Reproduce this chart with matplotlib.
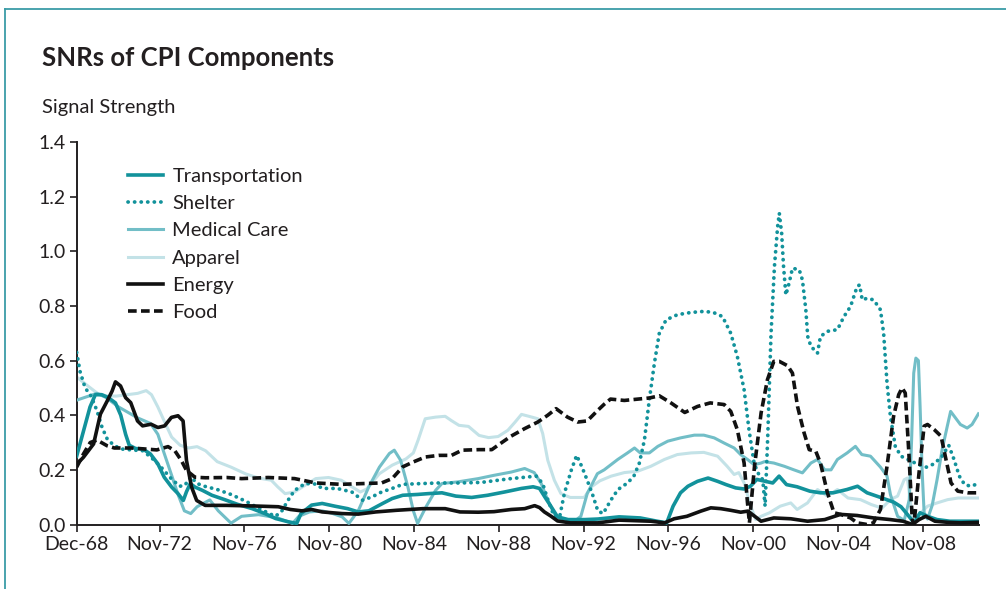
import numpy as np
import matplotlib
matplotlib.use("Agg")
import matplotlib.pyplot as plt
from matplotlib.lines import Line2D

plt.rcParams["font.family"] = ["Lato", "DejaVu Sans"]

TEXT = "#231f20"

# -----------------------------
# data (decimal year, signal strength)
# -----------------------------
transport_yr = [1968.92, 1969.2, 1969.55, 1969.8, 1970.1, 1970.4, 1970.75, 1971.0, 1971.23, 1971.4,
                1971.7, 1972.05, 1972.4, 1972.75, 1973.05, 1973.4, 1973.7, 1973.95, 1974.1, 1974.28,
                1974.5, 1974.85, 1975.3, 1975.9, 1976.5, 1977.2, 1977.8, 1978.3, 1978.9, 1979.3,
                1979.5, 1980.0, 1980.5, 1981.1, 1981.7, 1982.2, 1982.7, 1983.35, 1983.8, 1984.3,
                1985.0, 1985.5, 1986.15, 1986.8, 1987.55, 1988.3, 1989.1, 1989.9, 1990.45, 1990.75,
                1991.0, 1991.3, 1991.6, 1992.1, 1992.9, 1993.5, 1994.5, 1995.5, 1996.3, 1996.75,
                1997.05, 1997.4, 1997.75, 1998.2, 1998.7, 1999.15, 1999.55, 2000.0, 2000.4, 2000.7,
                2001.0, 2001.4, 2001.75, 2002.05, 2002.4, 2002.9, 2003.5, 2004.0, 2004.6, 2005.25,
                2005.75, 2006.2, 2006.8, 2007.45, 2007.8, 2008.1, 2008.42, 2008.7, 2009.05, 2009.5,
                2010.1, 2011.45]
transport_val = [0.25, 0.33, 0.43, 0.475, 0.475, 0.465, 0.445, 0.40, 0.33, 0.29,
                 0.278, 0.276, 0.258, 0.222, 0.173, 0.137, 0.113, 0.088, 0.12, 0.15,
                 0.137, 0.125, 0.107, 0.091, 0.074, 0.058, 0.04, 0.022, 0.01, 0.004,
                 0.04, 0.071, 0.077, 0.067, 0.058, 0.046, 0.05, 0.077, 0.095, 0.107,
                 0.11, 0.113, 0.116, 0.104, 0.099, 0.107, 0.119, 0.132, 0.138, 0.132,
                 0.101, 0.065, 0.028, 0.018, 0.018, 0.02, 0.028, 0.024, 0.012, 0.006,
                 0.067, 0.116, 0.14, 0.158, 0.17, 0.158, 0.146, 0.134, 0.13, 0.14,
                 0.165, 0.158, 0.152, 0.177, 0.146, 0.138, 0.122, 0.116, 0.116, 0.128,
                 0.14, 0.116, 0.10, 0.082, 0.065, 0.037, 0.006, 0.043, 0.03, 0.018,
                 0.012, 0.012]

shelter_yr = [1968.92, 1969.08, 1969.32, 1969.6, 1969.88, 1970.12, 1970.36, 1970.7, 1971.07, 1971.5,
              1972.03, 1972.43, 1972.9, 1973.39, 1973.78, 1974.02, 1974.3, 1974.6, 1974.95, 1975.55,
              1976.2, 1976.9, 1977.5, 1978.0, 1978.3, 1978.6, 1978.9, 1979.2, 1979.7, 1980.2,
              1980.5, 1981.2, 1981.9, 1982.4, 1982.85, 1983.3, 1983.8, 1984.3, 1985.25, 1986.0,
              1987.0, 1988.0, 1988.8, 1989.4, 1990.2, 1990.6, 1990.9, 1991.15, 1991.45, 1991.7,
              1991.92, 1992.25, 1992.5, 1992.75, 1993.0, 1993.25, 1993.5, 1993.75, 1994.13, 1994.45,
              1994.9, 1995.2, 1995.46, 1995.7, 1995.93, 1996.17, 1996.4, 1996.72, 1997.26, 1997.9,
              1998.52, 1998.95, 1999.38, 1999.77, 2000.08, 2000.4, 2000.63, 2000.87, 2001.05, 2001.28,
              2001.39, 2001.52, 2001.67, 2001.83, 2001.98, 2002.06, 2002.17, 2002.26, 2002.37, 2002.52,
              2002.68, 2003.0, 2003.15, 2003.31, 2003.4, 2003.55, 2003.86, 2004.0, 2004.33, 2004.8,
              2005.11, 2005.42, 2005.73, 2005.85, 2005.97, 2006.2, 2006.51, 2006.83, 2006.98, 2007.14,
              2007.3, 2007.53, 2007.8, 2008.2, 2008.6, 2009.0, 2009.3, 2009.7, 2010.05, 2010.3,
              2010.55, 2010.8, 2011.1, 2011.45]
shelter_val = [0.63, 0.56, 0.50, 0.47, 0.416, 0.355, 0.313, 0.288, 0.276, 0.273,
               0.27, 0.246, 0.21, 0.167, 0.14, 0.143, 0.175, 0.15, 0.14, 0.128,
               0.11, 0.085, 0.06, 0.04, 0.03, 0.05, 0.09, 0.125, 0.15, 0.148,
               0.132, 0.132, 0.119, 0.089, 0.101, 0.119, 0.132, 0.147, 0.15, 0.152,
               0.152, 0.154, 0.162, 0.168, 0.174, 0.177, 0.15, 0.089, 0.028, 0.028,
               0.113, 0.199, 0.253, 0.211, 0.162, 0.11, 0.05, 0.04, 0.091, 0.128,
               0.152, 0.177, 0.225, 0.31, 0.457, 0.591, 0.70, 0.749, 0.768, 0.776,
               0.78, 0.776, 0.761, 0.70, 0.615, 0.493, 0.347, 0.225, 0.189, 0.164,
               0.067, 0.335, 0.70, 0.944, 1.09, 1.139, 1.066, 0.944, 0.84, 0.883,
               0.938, 0.932, 0.895, 0.786, 0.688, 0.652, 0.627, 0.688, 0.707, 0.713,
               0.761, 0.798, 0.871, 0.877, 0.822, 0.828, 0.822, 0.786, 0.70, 0.518,
               0.396, 0.286, 0.25, 0.235, 0.22, 0.21, 0.22, 0.245, 0.29, 0.238,
               0.177, 0.146, 0.14, 0.15]

medical_yr = [1968.92, 1969.3, 1969.88, 1970.3, 1970.9, 1971.8, 1972.4, 1972.75, 1973.05, 1973.4,
              1973.7, 1974.0, 1974.3, 1974.6, 1975.2, 1975.6, 1976.2, 1976.7, 1977.5, 1978.4,
              1979.1, 1979.4, 1979.9, 1980.5, 1981.0, 1981.44, 1981.76, 1982.2, 1982.7, 1983.2,
              1983.67, 1983.9, 1984.2, 1984.54, 1984.8, 1985.0, 1985.4, 1985.85, 1986.15, 1986.9,
              1987.86, 1988.6, 1989.42, 1990.05, 1990.5, 1990.83, 1991.14, 1991.45, 1991.76, 1992.4,
              1992.7, 1993.0, 1993.48, 1993.8, 1994.44, 1994.9, 1995.23, 1995.5, 1995.93, 1996.33,
              1996.8, 1997.4, 1998.05, 1998.5, 1998.99, 1999.46, 1999.93, 2000.25, 2000.56, 2000.87,
              2001.2, 2001.36, 2001.8, 2002.3, 2002.75, 2003.15, 2003.55, 2003.86, 2004.2, 2004.5,
              2004.8, 2005.26, 2005.65, 2005.95, 2006.36, 2006.83, 2007.14, 2007.3, 2007.64, 2007.95,
              2008.19, 2008.3, 2008.4, 2008.5, 2008.62, 2008.7, 2008.8, 2008.89, 2009.05, 2009.27,
              2009.5, 2009.74, 2009.98, 2010.14, 2010.37, 2010.6, 2010.92, 2011.15, 2011.45]
medical_val = [0.455, 0.465, 0.48, 0.465, 0.43, 0.39, 0.37, 0.33, 0.26, 0.18,
               0.11, 0.05, 0.04, 0.065, 0.09, 0.05, 0.005, 0.03, 0.036, 0.024,
               0.004, 0.03, 0.046, 0.05, 0.04, 0.028, 0.004, 0.05, 0.138, 0.21,
               0.26, 0.272, 0.235, 0.138, 0.05, 0.004, 0.065, 0.125, 0.15, 0.156,
               0.168, 0.18, 0.192, 0.205, 0.19, 0.15, 0.089, 0.04, 0.016, 0.012,
               0.03, 0.113, 0.186, 0.20, 0.238, 0.262, 0.28, 0.262, 0.262, 0.286,
               0.305, 0.317, 0.327, 0.327, 0.317, 0.298, 0.28, 0.255, 0.238, 0.219,
               0.225, 0.23, 0.225, 0.213, 0.20, 0.189, 0.225, 0.238, 0.20, 0.20,
               0.238, 0.262, 0.286, 0.256, 0.25, 0.21, 0.177, 0.11, 0.03, 0.015,
               0.091, 0.31, 0.554, 0.609, 0.60, 0.432, 0.189, 0.043, 0.02, 0.07,
               0.164, 0.274, 0.359, 0.414, 0.39, 0.366, 0.353, 0.366, 0.405]

apparel_yr = [1968.92, 1969.4, 1969.9, 1970.35, 1970.8, 1971.3, 1971.8, 1972.2, 1972.45, 1972.75,
              1973.1, 1973.4, 1973.8, 1974.2, 1974.6, 1975.0, 1975.55, 1976.2, 1976.9, 1977.5,
              1978.1, 1978.4, 1978.75, 1979.2, 1979.7, 1980.2, 1980.8, 1981.4, 1981.9, 1982.3,
              1982.6, 1983.2, 1983.8, 1984.45, 1984.8, 1985.03, 1985.36, 1985.85, 1986.3, 1986.6,
              1986.95, 1987.4, 1987.9, 1988.35, 1988.8, 1989.26, 1989.6, 1989.9, 1990.25, 1990.67,
              1990.9, 1991.14, 1991.45, 1991.76, 1992.2, 1992.86, 1993.2, 1993.6, 1994.13, 1994.75,
              1995.38, 1996.0, 1996.64, 1997.25, 1997.9, 1998.5, 1999.15, 1999.6, 1999.93, 2000.15,
              2000.4, 2000.71, 2000.95, 2001.2, 2001.6, 2002.1, 2002.6, 2002.9, 2003.39, 2003.86,
              2004.33, 2004.8, 2005.3, 2005.89, 2006.4, 2006.9, 2007.3, 2007.64, 2007.95, 2008.1,
              2008.2, 2008.34, 2008.7, 2009.05, 2009.5, 2010.0, 2010.5, 2011.45]
apparel_val = [0.54, 0.51, 0.48, 0.47, 0.47, 0.475, 0.48, 0.49, 0.475, 0.43,
               0.37, 0.32, 0.29, 0.28, 0.285, 0.27, 0.23, 0.21, 0.185, 0.17,
               0.162, 0.138, 0.113, 0.119, 0.144, 0.168, 0.172, 0.162, 0.138, 0.119,
               0.13, 0.186, 0.217, 0.24, 0.262, 0.31, 0.387, 0.393, 0.396, 0.38,
               0.363, 0.359, 0.326, 0.318, 0.322, 0.345, 0.375, 0.403, 0.396, 0.387,
               0.333, 0.235, 0.162, 0.113, 0.099, 0.099, 0.138, 0.16, 0.177, 0.19,
               0.195, 0.213, 0.238, 0.256, 0.262, 0.264, 0.25, 0.213, 0.183, 0.19,
               0.152, 0.067, 0.018, 0.03, 0.043, 0.067, 0.079, 0.055, 0.079, 0.128,
               0.104, 0.128, 0.097, 0.091, 0.073, 0.06, 0.091, 0.104, 0.164, 0.17,
               0.11, 0.02, 0.04, 0.067, 0.079, 0.091, 0.097, 0.097]

energy_yr = [1968.92, 1969.24, 1969.72, 1970.04, 1970.36, 1970.59, 1970.75, 1970.99, 1971.23, 1971.47,
             1971.79, 1972.03, 1972.43, 1972.75, 1973.07, 1973.39, 1973.7, 1973.94, 1974.1, 1974.34,
             1974.58, 1974.98, 1976.0, 1977.2, 1978.43, 1979.0, 1979.54, 1980.0, 1980.5, 1981.44,
             1982.2, 1983.03, 1984.0, 1985.25, 1986.3, 1987.0, 1987.86, 1988.6, 1989.42, 1990.05,
             1990.52, 1990.75, 1990.98, 1991.3, 1991.6, 1992.2, 1993.5, 1994.5, 1996.0, 1996.65,
             1997.1, 1997.7, 1998.36, 1998.83, 1999.3, 1999.77, 2000.24, 2000.58, 2000.9, 2001.2,
             2001.8, 2002.6, 2003.39, 2004.2, 2004.95, 2005.73, 2006.51, 2007.3, 2007.9, 2008.34,
             2008.65, 2008.97, 2009.4, 2010.0, 2010.6, 2011.45]
energy_val = [0.22, 0.246, 0.295, 0.404, 0.452, 0.488, 0.522, 0.507, 0.464, 0.446,
              0.379, 0.361, 0.367, 0.355, 0.361, 0.392, 0.398, 0.379, 0.234, 0.137,
              0.088, 0.07, 0.07, 0.068, 0.065, 0.055, 0.05, 0.055, 0.046, 0.04,
              0.038, 0.046, 0.052, 0.058, 0.058, 0.046, 0.045, 0.047, 0.055, 0.058,
              0.069, 0.062, 0.046, 0.03, 0.013, 0.006, 0.006, 0.016, 0.012, 0.006,
              0.021, 0.03, 0.049, 0.061, 0.058, 0.052, 0.045, 0.049, 0.03, 0.012,
              0.024, 0.021, 0.012, 0.018, 0.037, 0.033, 0.024, 0.018, 0.012, 0.0,
              0.018, 0.03, 0.012, 0.008, 0.006, 0.008]

food_yr = [1968.92, 1969.24, 1969.56, 1969.88, 1970.36, 1970.7, 1971.5, 1972.2, 1972.7, 1973.23,
           1973.55, 1973.86, 1974.1, 1974.5, 1975.0, 1976.0, 1976.7, 1977.95, 1979.2, 1980.2,
           1981.4, 1982.5, 1983.3, 1983.8, 1984.3, 1984.8, 1985.36, 1986.0, 1986.6, 1987.1,
           1987.9, 1988.5, 1988.9, 1989.4, 1990.05, 1990.67, 1991.14, 1991.53, 1992.07, 1992.55,
           1993.0, 1993.5, 1993.8, 1994.1, 1994.75, 1995.4, 1995.93, 1996.4, 1996.95, 1997.6,
           1998.2, 1998.8, 1999.46, 1999.77, 2000.08, 2000.4, 2000.56, 2000.65, 2000.89, 2001.2,
           2001.5, 2001.8, 2002.06, 2002.45, 2002.68, 2002.92, 2003.23, 2003.47, 2003.78, 2004.0,
           2004.33, 2004.64, 2004.95, 2005.42, 2005.73, 2006.2, 2006.5, 2006.83, 2007.14, 2007.45,
           2007.69, 2007.85, 2008.0, 2008.17, 2008.33, 2008.41, 2008.65, 2008.89, 2009.05, 2009.37,
           2009.69, 2009.92, 2010.16, 2010.48, 2010.96, 2011.45]
food_val = [0.21, 0.258, 0.30, 0.309, 0.288, 0.28, 0.28, 0.276, 0.273, 0.285,
            0.27, 0.234, 0.198, 0.173, 0.171, 0.172, 0.168, 0.172, 0.168, 0.152,
            0.147, 0.15, 0.152, 0.168, 0.211, 0.229, 0.247, 0.253, 0.253, 0.272,
            0.274, 0.274, 0.296, 0.323, 0.351, 0.375, 0.40, 0.424, 0.393, 0.375,
            0.379, 0.418, 0.44, 0.459, 0.454, 0.459, 0.463, 0.471, 0.445, 0.41,
            0.432, 0.445, 0.439, 0.414, 0.347, 0.225, 0.079, 0.006, 0.213, 0.408,
            0.53, 0.597, 0.597, 0.581, 0.554, 0.432, 0.335, 0.274, 0.268, 0.225,
            0.116, 0.043, 0.037, 0.024, 0.006, 0.0, 0.006, 0.055, 0.213, 0.396,
            0.475, 0.50, 0.481, 0.262, 0.018, 0.0, 0.189, 0.36, 0.366, 0.347,
            0.323, 0.238, 0.152, 0.122, 0.116, 0.116]

tick_years = [1968.92, 1972.83, 1976.83, 1980.83, 1984.83, 1988.83, 1992.83,
              1996.83, 2000.83, 2004.83, 2008.83]
tick_labels = ["Dec-68", "Nov-72", "Nov-76", "Nov-80", "Nov-84", "Nov-88", "Nov-92",
               "Nov-96", "Nov-00", "Nov-04", "Nov-08"]

# -----------------------------
# Plot setup
# -----------------------------
fig = plt.figure(figsize=(10.06, 5.89), dpi=100)
ax = fig.add_axes([0.0762, 0.1095, 0.897, 0.6495])

ax.plot(apparel_yr, apparel_val, color="#c3e2e7", lw=2.2, label="Apparel", zorder=2)
ax.plot(medical_yr, medical_val, color="#72bec7", lw=2.2, label="Medical Care", zorder=3)
ax.plot(transport_yr, transport_val, color="#12929b", lw=2.6, label="Transportation", zorder=4)
ax.plot(shelter_yr, shelter_val, color="#12929b", lw=2.7, linestyle=(0, (0.05, 1.7)),
        dash_capstyle="round", label="Shelter", zorder=5)
ax.plot(energy_yr, energy_val, color="#111111", lw=2.6, label="Energy", zorder=6)
ax.plot(food_yr, food_val, color="#111111", lw=2.6, linestyle=(0, (2.4, 1.2)),
        label="Food", zorder=7)

ax.set_xlim(1968.92, 2011.48)
ax.set_ylim(0, 1.4)
ax.set_yticks(np.arange(0, 1.41, 0.2))
ax.set_yticklabels([f"{v:.1f}" for v in np.arange(0, 1.41, 0.2)])
ax.set_xticks(tick_years)
ax.set_xticklabels(tick_labels)

for s in ["top", "right"]:
    ax.spines[s].set_visible(False)
for s in ["left", "bottom"]:
    ax.spines[s].set_color(TEXT)
    ax.spines[s].set_linewidth(1.4)
ax.tick_params(axis="both", direction="out", length=5, width=1.2, colors=TEXT,
               labelsize=14, pad=3)

# legend in the reference order
handles, labels = ax.get_legend_handles_labels()
order = ["Transportation", "Shelter", "Medical Care", "Apparel", "Energy", "Food"]
hmap = dict(zip(labels, handles))
ax.legend([hmap[k] for k in order], order, loc="upper left",
          bbox_to_anchor=(0.057, 0.932), frameon=False, fontsize=14.5,
          handlelength=1.75, handletextpad=0.45, labelspacing=0.5, borderpad=0,
          borderaxespad=0, labelcolor=TEXT)

fig.text(0.0418, 0.9015, "SNRs of CPI Components", fontsize=18.5, fontweight="bold",
         color=TEXT, va="center", ha="left")
fig.text(0.0418, 0.818, "Signal Strength", fontsize=14.5, color=TEXT, va="center", ha="left")

# teal frame on left and top
frame_c = "#3a9ca7"
fig.add_artist(Line2D([0.005, 0.005], [0.0, 0.985], transform=fig.transFigure,
                      color=frame_c, lw=1.3))
fig.add_artist(Line2D([0.005, 1.0], [0.985, 0.985], transform=fig.transFigure,
                      color=frame_c, lw=1.3))

fig.savefig("out.png", dpi=100)
